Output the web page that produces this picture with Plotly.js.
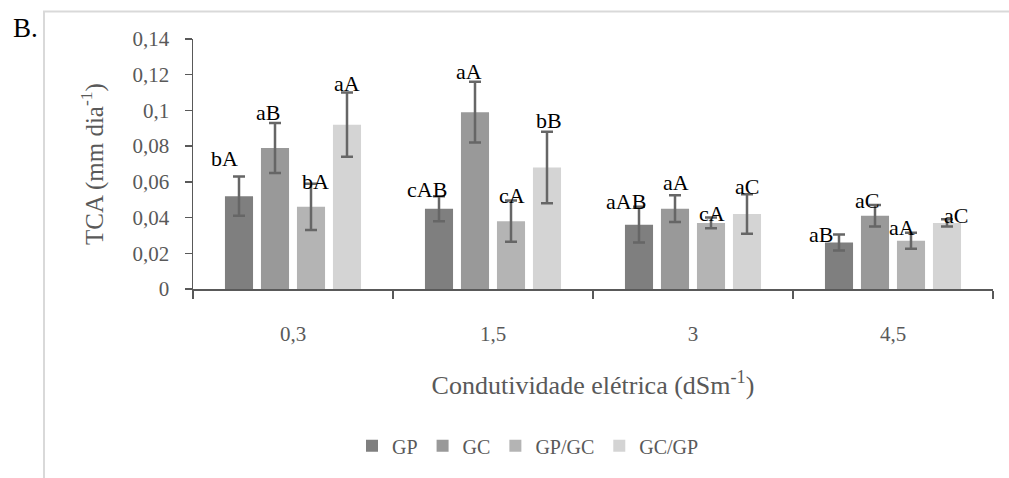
<!DOCTYPE html>
<html>
<head>
<meta charset="utf-8">
<script src="https://cdn.plot.ly/plotly-3.0.1.min.js"></script>
<style>
  html, body { margin: 0; padding: 0; background: #ffffff; }
  #chart { width: 1009px; height: 478px; }
</style>
</head>
<body>
<div id="chart"></div>
<script>
// Electrical conductivity levels (dS m-1)
const categories = ['0,3', '1,5', '3', '4,5'];

// Mean TCA (mm dia-1) per grafting combination
const seriesNames = ['GP', 'GC', 'GP/GC', 'GC/GP'];
const gpValues   = [0.052, 0.045, 0.036, 0.026];
const gcValues   = [0.079, 0.099, 0.045, 0.041];
const gpgcValues = [0.046, 0.038, 0.037, 0.027];
const gcgpValues = [0.092, 0.068, 0.042, 0.037];

// Standard errors
const gpErrors   = [0.011, 0.007, 0.010, 0.0045];
const gcErrors   = [0.014, 0.017, 0.0075, 0.006];
const gpgcErrors = [0.013, 0.0115, 0.003, 0.0045];
const gcgpErrors = [0.018, 0.020, 0.011, 0.002];

// Mean comparison letters
const gpLetters   = ['bA', 'cAB', 'aAB', 'aB'];
const gcLetters   = ['aB', 'aA', 'aA', 'aC'];
const gpgcLetters = ['bA', 'cA', 'cA', 'aA'];
const gcgpLetters = ['aA', 'bB', 'aC', 'aC'];

const values  = [gpValues, gcValues, gpgcValues, gcgpValues];
const errors  = [gpErrors, gcErrors, gpgcErrors, gcgpErrors];
const letters = [gpLetters, gcLetters, gpgcLetters, gcgpLetters];

// Styling
const barColors = ['#7f7f7f', '#999999', '#b4b4b4', '#d4d4d4'];
const serif = "'Liberation Serif', 'Times New Roman', Times, serif";
const grey = '#595959';

// Letter placement: nudges (px) relative to the top centre of each bar
const letterShiftX = [[-15, -12, -13, -18], [-7, -6, 1, -8], [4, 1, 1, -9], [0, 2, 0, 9]];
const letterShiftY = [[38, 19, 23, 8], [35, 41, 26, 15], [25, 26, 9, 13], [41, 47, 28, 7]];

const margin = {l: 193, r: 16, t: 39, b: 184};
const plotWidth = 1009 - margin.l - margin.r;
const bargap = 0.28;
const slot = plotWidth / categories.length * (1 - bargap) / seriesNames.length;

const traces = seriesNames.map((name, k) => ({
  type: 'bar',
  name: name,
  x: categories,
  y: values[k],
  marker: {color: barColors[k], line: {width: 0}},
  error_y: {type: 'data', array: errors[k], visible: true, color: '#666666', thickness: 2.5, width: 6},
  hoverinfo: 'x+y+name'
}));

const annotations = [];
seriesNames.forEach((name, k) => {
  const offset = (k - (seriesNames.length - 1) / 2) * slot;
  categories.forEach((c, i) => {
    annotations.push({
      // category axis: position by category index
      xref: 'x', yref: 'y', x: i, y: values[k][i],
      text: letters[k][i], showarrow: false,
      xanchor: 'center', yanchor: 'middle',
      xshift: offset + letterShiftX[k][i], yshift: letterShiftY[k][i],
      font: {family: serif, size: 22, color: '#000000'}
    });
  });
});

// Panel letter
annotations.push({
  xref: 'paper', yref: 'paper', x: (25 - margin.l) / plotWidth, y: (294 - 28) / 255,
  text: 'B.', showarrow: false, xanchor: 'center', yanchor: 'middle',
  font: {family: serif, size: 27, color: '#000000'}
});

const layout = {
  width: 1009, height: 478,
  margin: margin,
  paper_bgcolor: '#ffffff', plot_bgcolor: '#ffffff',
  barmode: 'group', bargap: bargap, bargroupgap: 0.22,
  font: {family: serif, color: grey},
  separators: ',.',
  showlegend: true,
  legend: {
    orientation: 'h', x: (528 - margin.l) / plotWidth, xanchor: 'center',
    y: (294 - 454) / 255, yanchor: 'middle',
    font: {family: serif, size: 20, color: grey},
    traceorder: 'normal'
  },
  xaxis: {
    type: 'category', showgrid: false, zeroline: false,
    showline: true, linecolor: grey, linewidth: 1.5,
    ticks: 'outside', tickson: 'boundaries', ticklen: 8, tickwidth: 1.5, tickcolor: grey,
    ticklabelstandoff: 25,
    tickfont: {family: serif, size: 21, color: grey},
    title: {text: 'Condutividade elétrica (dSm<sup>-1</sup>)', standoff: 31,
            font: {family: serif, size: 26, color: grey}}
  },
  yaxis: {
    range: [0, 0.14], dtick: 0.02, tickformat: '.2~f',
    showgrid: false, zeroline: false,
    showline: true, linecolor: grey, linewidth: 1.5,
    ticks: 'outside', ticklen: 7, tickwidth: 1.5, tickcolor: grey,
    ticklabelstandoff: 11,
    tickfont: {family: serif, size: 21, color: grey},
    title: {text: 'TCA (mm dia<sup>-1</sup>)', standoff: 22,
            font: {family: serif, size: 25, color: grey}}
  },
  annotations: annotations,
  shapes: [{
    type: 'rect', xref: 'paper', yref: 'paper', layer: 'below',
    x0: (44 - margin.l) / plotWidth, x1: (1030 - margin.l) / plotWidth,
    y0: (294 - 500) / 255, y1: (294 - 11) / 255,
    line: {color: '#d9d9d9', width: 2}, fillcolor: 'rgba(0,0,0,0)'
  }]
};

Plotly.newPlot('chart', traces, layout, {displayModeBar: false, staticPlot: true});
</script>
</body>
</html>
